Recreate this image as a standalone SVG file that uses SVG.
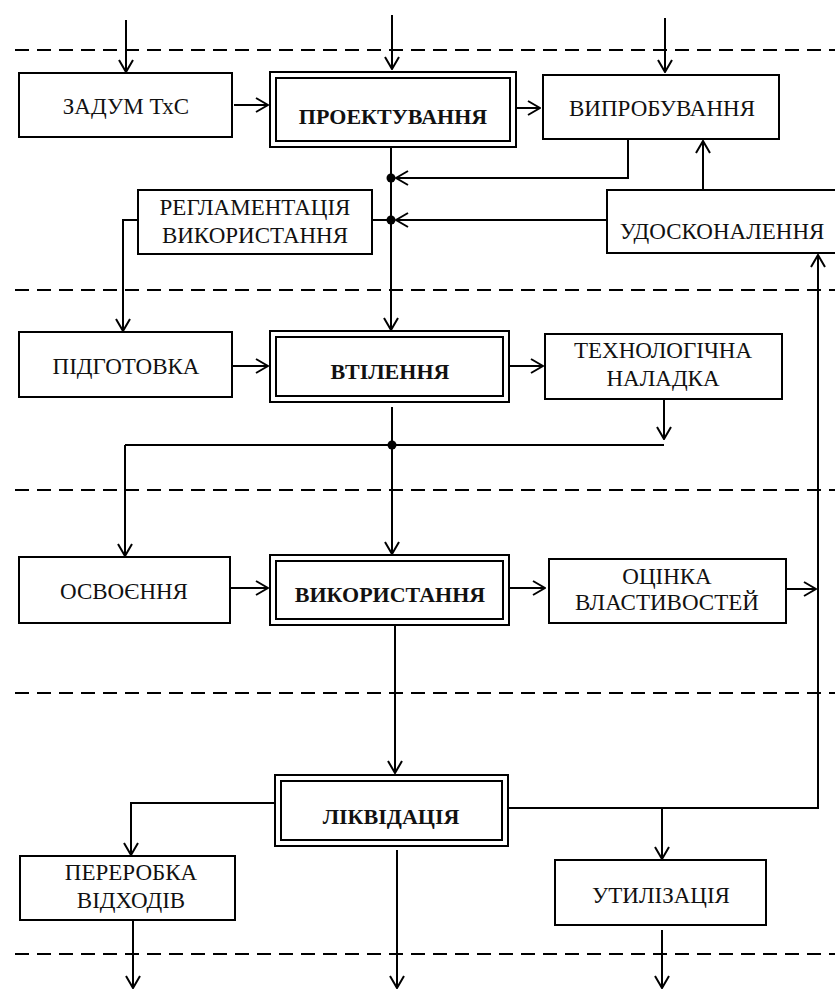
<svg xmlns="http://www.w3.org/2000/svg" width="835" height="991" viewBox="0 0 835 991">
<defs>
<marker id="ah" markerUnits="userSpaceOnUse" markerWidth="14" markerHeight="16" viewBox="0 0 14 16" refX="13" refY="8" orient="auto">
<path d="M1,1 L13,8 L1,15" fill="none" stroke="#000" stroke-width="2"/>
</marker>
<style>
.dash{stroke:#000;stroke-width:2;stroke-dasharray:14 8;fill:none}
.box{fill:#fff;stroke:#000;stroke-width:2}
.dbl{fill:#fff;stroke:#000;stroke-width:2}
.c{fill:none;stroke:#000;stroke-width:2}
.a{fill:none;stroke:#000;stroke-width:2;marker-end:url(#ah)}
text{font-family:"Liberation Serif","Times New Roman",serif;font-size:23px;fill:#111;text-anchor:middle}
.b{font-weight:bold;font-size:22px}
</style>
</defs>
<rect width="835" height="991" fill="#fff"/>
<g id="separators">
<line class="dash" x1="15" y1="50" x2="835" y2="50"/>
<line class="dash" x1="15" y1="290" x2="835" y2="290"/>
<line class="dash" x1="15" y1="490" x2="835" y2="490"/>
<line class="dash" x1="15" y1="693" x2="835" y2="693"/>
<line class="dash" x1="15" y1="954" x2="835" y2="954"/>
</g>
<g id="connectors">
<line class="a" x1="126" y1="20" x2="126" y2="72"/>
<line class="a" x1="392" y1="15" x2="392" y2="69"/>
<line class="a" x1="665" y1="18" x2="665" y2="72"/>
<line class="a" x1="234" y1="105" x2="268" y2="105"/>
<line class="a" x1="516" y1="108" x2="540" y2="108"/>
<polyline class="a" points="628,139 628,178 396,178"/>
<line class="a" x1="607" y1="220" x2="396" y2="220"/>
<line class="c" x1="372" y1="220" x2="391" y2="220"/>
<polyline class="a" points="138,220 123,220 123,331"/>
<line class="a" x1="703" y1="190" x2="703" y2="141"/>
<line class="a" x1="391" y1="147" x2="391" y2="330"/>
<line class="a" x1="232" y1="366" x2="268" y2="366"/>
<line class="a" x1="509" y1="366" x2="543" y2="366"/>
<line class="a" x1="664" y1="399" x2="664" y2="439"/>
<line class="c" x1="125" y1="445" x2="664" y2="445"/>
<line class="a" x1="392" y1="407" x2="392" y2="554"/>
<line class="a" x1="125" y1="445" x2="125" y2="556"/>
<line class="a" x1="230" y1="588" x2="268" y2="588"/>
<line class="a" x1="509" y1="588" x2="545" y2="588"/>
<line class="a" x1="786" y1="589" x2="816" y2="589"/>
<line class="a" x1="395" y1="625" x2="395" y2="773"/>
<polyline class="a" points="275,803 131,803 131,855"/>
<polyline class="a" points="508,808 818,808 818,255"/>
<line class="a" x1="662" y1="808" x2="662" y2="859"/>
<line class="a" x1="133" y1="920" x2="133" y2="988"/>
<line class="a" x1="397" y1="850" x2="397" y2="988"/>
<line class="a" x1="662" y1="930" x2="662" y2="988"/>
<circle cx="391" cy="178" r="4.5" fill="#000"/>
<circle cx="391" cy="220" r="4.5" fill="#000"/>
<circle cx="392" cy="445" r="4.5" fill="#000"/>
</g>
<g id="zadum"><rect class="box" x="19" y="73" width="213" height="64"/><text x="126" y="114">ЗАДУМ ТхС</text></g>
<g id="proektuvannia"><rect class="dbl" x="270" y="72" width="246" height="75"/><rect class="dbl" x="276" y="78" width="234" height="63"/><text class="b" x="393" y="124">ПРОЕКТУВАННЯ</text></g>
<g id="vyprobuvannia"><rect class="box" x="543" y="75" width="236" height="64"/><text x="662" y="116">ВИПРОБУВАННЯ</text></g>
<g id="reglamentatsiia"><rect class="box" x="138" y="190" width="234" height="64"/><text x="255" y="215">РЕГЛАМЕНТАЦІЯ</text><text x="255" y="243">ВИКОРИСТАННЯ</text></g>
<g id="udoskonalennia"><rect class="box" x="607" y="190" width="240" height="63"/><text x="722" y="239">УДОСКОНАЛЕННЯ</text></g>
<g id="pidhotovka"><rect class="box" x="19" y="332" width="213" height="65"/><text x="126" y="374">ПІДГОТОВКА</text></g>
<g id="vtilennia"><rect class="dbl" x="270" y="331" width="239" height="71"/><rect class="dbl" x="276" y="337" width="227" height="59"/><text class="b" x="390" y="379">ВТІЛЕННЯ</text></g>
<g id="nalad"><rect class="box" x="545" y="334" width="237" height="65"/><text x="663" y="358">ТЕХНОЛОГІЧНА</text><text x="663" y="386">НАЛАДКА</text></g>
<g id="osvoiennia"><rect class="box" x="19" y="557" width="211" height="66"/><text x="124" y="599">ОСВОЄННЯ</text></g>
<g id="vykorystannia"><rect class="dbl" x="270" y="555" width="239" height="70"/><rect class="dbl" x="276" y="561" width="227" height="58"/><text class="b" x="390" y="602">ВИКОРИСТАННЯ</text></g>
<g id="otsinka"><rect class="box" x="549" y="559" width="237" height="64"/><text x="667" y="584">ОЦІНКА</text><text x="667" y="610">ВЛАСТИВОСТЕЙ</text></g>
<g id="likvidatsiia"><rect class="dbl" x="275" y="775" width="233" height="71"/><rect class="dbl" x="281" y="781" width="221" height="59"/><text class="b" x="391" y="824">ЛІКВІДАЦІЯ</text></g>
<g id="pererobka"><rect class="box" x="20" y="856" width="215" height="64"/><text x="131" y="880">ПЕРЕРОБКА</text><text x="131" y="908">ВІДХОДІВ</text></g>
<g id="utylizatsiia"><rect class="box" x="555" y="860" width="211" height="65"/><text x="661" y="903">УТИЛІЗАЦІЯ</text></g>
</svg>
